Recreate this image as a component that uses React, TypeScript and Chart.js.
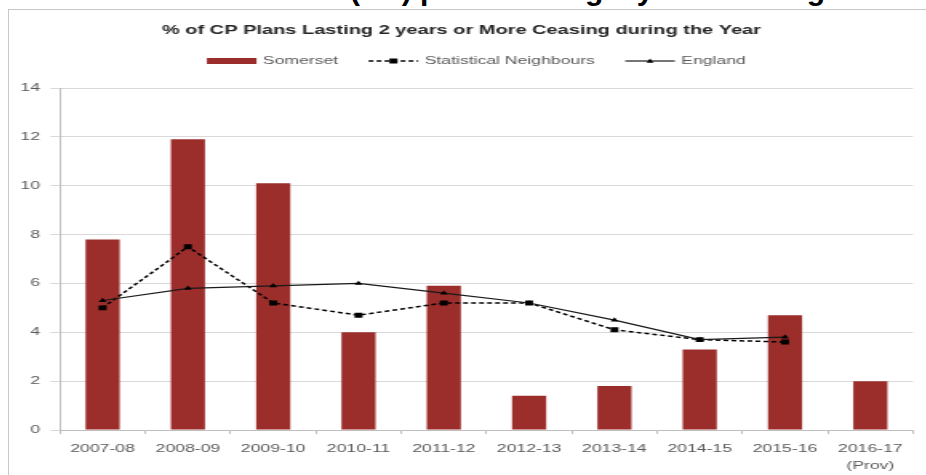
import React, { useEffect, useRef } from "react";
import { Chart, registerables } from "chart.js";

Chart.register(...registerables);

// ---------- data ----------
const categories: (string | string[])[] = [
  "2007-08",
  "2008-09",
  "2009-10",
  "2010-11",
  "2011-12",
  "2012-13",
  "2013-14",
  "2014-15",
  "2015-16",
  ["2016-17", "(Prov)"],
];
const somerset = [7.8, 11.9, 10.1, 4.0, 5.9, 1.4, 1.8, 3.3, 4.7, 2.0];
const statNeighbours = [5.0, 7.5, 5.2, 4.7, 5.2, 5.2, 4.1, 3.7, 3.6, null];
const england = [5.3, 5.8, 5.9, 6.0, 5.6, 5.2, 4.5, 3.7, 3.8, null];
const seriesNames = ["Somerset", "Statistical Neighbours", "England"];
const yMin = 0;
const yMax = 14;
const yStep = 2;
const chartTitle = "% of CP Plans Lasting 2 years or More Ceasing during the Year";
const pageHeading = "Child Protection (CP) plans lasting 2 years or longer";

// ---------- style ----------
const FONT = "'Liberation Sans', Arial, sans-serif";
const STRETCH = 1.6; // the reference image is horizontally stretched
const CW = 583;
const CH = 470;
const BAR_COLOR = "#9b2d2b";
const TEXT_COLOR = "#595959";

function drawSwatch(ctx: CanvasRenderingContext2D, kind: string, x: number, y: number, w: number) {
  ctx.save();
  if (kind === "bar") {
    ctx.fillStyle = BAR_COLOR;
    ctx.fillRect(x, y - 3, w, 6);
  } else if (kind === "dash") {
    ctx.strokeStyle = "#000";
    ctx.lineWidth = 1.5;
    ctx.setLineDash([3, 2]);
    ctx.beginPath();
    ctx.moveTo(x, y);
    ctx.lineTo(x + w, y);
    ctx.stroke();
    ctx.setLineDash([]);
    ctx.fillStyle = "#000";
    ctx.fillRect(x + w / 2 - 2.5, y - 2.5, 5, 5);
  } else {
    ctx.strokeStyle = "#1a1a1a";
    ctx.lineWidth = 1.2;
    ctx.beginPath();
    ctx.moveTo(x, y);
    ctx.lineTo(x + w, y);
    ctx.stroke();
    ctx.fillStyle = "#000";
    ctx.beginPath();
    ctx.moveTo(x + w / 2, y - 2.5);
    ctx.lineTo(x + w / 2 + 2.2, y + 1.8);
    ctx.lineTo(x + w / 2 - 2.2, y + 1.8);
    ctx.closePath();
    ctx.fill();
  }
  ctx.restore();
}

const legendPlugin = {
  id: "seriesLegend",
  afterDraw(chart: any) {
    const ctx: CanvasRenderingContext2D = chart.ctx;
    const kinds = ["bar", "dash", "solid"];
    const items = chart.data.datasets.map((d: any, i: number) => ({ text: d.label, kind: kinds[i] }));
    ctx.save();
    ctx.font = `11px ${FONT}`;
    const boxW = 31;
    const gap = 4;
    const spacing = 19;
    const widths = items.map((it: any) => boxW + gap + ctx.measureText(it.text).width);
    const total = widths.reduce((a: number, b: number) => a + b, 0) + spacing * (items.length - 1);
    let x = chart.width / 2 - total / 2;
    const y = 50;
    items.forEach((it: any, i: number) => {
      drawSwatch(ctx, it.kind, x, y, boxW);
      ctx.fillStyle = TEXT_COLOR;
      ctx.textBaseline = "middle";
      ctx.textAlign = "left";
      ctx.fillText(it.text, x + boxW + gap, y);
      x += widths[i] + spacing;
    });
    ctx.restore();
  },
};

export default function App() {
  const canvasRef = useRef<HTMLCanvasElement | null>(null);

  useEffect(() => {
    if (!canvasRef.current) return;
    const chart = new Chart(canvasRef.current, {
      type: "bar",
      data: {
        labels: categories as any,
        datasets: [
          {
            type: "bar",
            label: seriesNames[0],
            data: somerset,
            backgroundColor: BAR_COLOR,
            barPercentage: 0.4,
            categoryPercentage: 1,
            order: 3,
          } as any,
          {
            type: "line",
            label: seriesNames[1],
            data: statNeighbours,
            borderColor: "#000",
            borderWidth: 1.5,
            borderDash: [3, 2],
            pointStyle: "rect",
            pointRadius: 3.5,
            pointBackgroundColor: "#000",
            pointBorderWidth: 0,
            tension: 0,
            order: 1,
          },
          {
            type: "line",
            label: seriesNames[2],
            data: england,
            borderColor: "#1a1a1a",
            borderWidth: 1.2,
            pointStyle: "triangle",
            pointRadius: 2.8,
            pointBackgroundColor: "#000",
            pointBorderWidth: 0,
            tension: 0,
            order: 0,
          },
        ],
      },
      options: {
        responsive: false,
        maintainAspectRatio: false,
        animation: false,
        layout: { padding: { left: 0, right: 18.6, top: 0, bottom: 0 } },
        plugins: {
          legend: { display: false },
          tooltip: { enabled: false },
          title: {
            display: true,
            text: chartTitle,
            color: "#262626",
            font: { family: FONT, size: 12.5, weight: "bold", lineHeight: 1.2 },
            padding: { top: 12.5, bottom: 49.5 },
          },
        },
        scales: {
          x: {
            grid: { offset: true, drawOnChartArea: false, drawTicks: true, tickLength: 4, color: "#bfbfbf" },
            border: { color: "#bfbfbf" },
            ticks: {
              padding: 6,
              color: TEXT_COLOR,
              font: { family: FONT, size: 11, lineHeight: 1.55 },
              maxRotation: 0,
              autoSkip: false,
            },
            afterFit: (s: any) => {
              s.height = 51;
            },
          },
          y: {
            min: yMin,
            max: yMax,
            ticks: { stepSize: yStep, padding: 6.5, color: TEXT_COLOR, font: { family: FONT, size: 11 } },
            grid: { color: "#d9d9d9", tickLength: 6, drawTicks: true },
            border: { color: "#bfbfbf" },
            afterFit: (s: any) => {
              s.width = 31.25;
            },
          },
        },
      },
      plugins: [legendPlugin],
    });
    return () => chart.destroy();
  }, []);

  return (
    <div
      style={{
        position: "fixed",
        left: 0,
        top: 0,
        width: 926,
        height: 475,
        overflow: "hidden",
        background: "#fff",
      }}
    >
      <div style={{ position: "absolute", left: 0, top: 0, width: 926, height: 9, overflow: "hidden" }}>
        <div
          style={{
            position: "absolute",
            left: 110,
            bottom: 4,
            whiteSpace: "nowrap",
            fontFamily: FONT,
            fontWeight: "bold",
            fontSize: 30,
            lineHeight: 1,
            color: "#000",
          }}
        >
          {pageHeading}
        </div>
      </div>
      <div
        style={{
          position: "absolute",
          left: 8,
          top: 9,
          width: 960,
          height: 500,
          border: "1px solid #c8c8c8",
        }}
      />
      <canvas
        ref={canvasRef}
        width={CW}
        height={CH}
        style={{
          position: "absolute",
          left: 10,
          top: 11,
          transform: `scaleX(${STRETCH})`,
          transformOrigin: "0 0",
        }}
      />
    </div>
  );
}
